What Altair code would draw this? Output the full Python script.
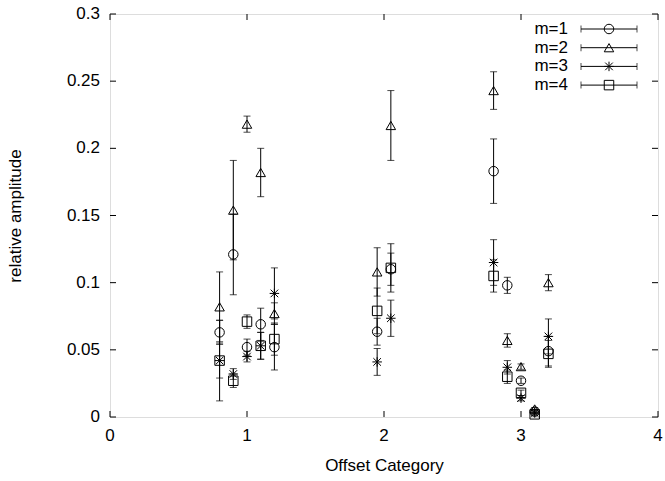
import altair as alt
import pandas as pd

# ---- data ----
x_pos = [0.8, 0.9, 1.0, 1.1, 1.2, 1.95, 2.05, 2.8, 2.9, 3.0, 3.1, 3.2]
series = ["m=1", "m=2", "m=3", "m=4"]
m1 = [0.063, 0.121, 0.052, 0.069, 0.052, 0.0635, 0.110, 0.183, 0.098, 0.027, 0.004, 0.049]
m1_err = [0.009, 0.030, 0.006, 0.012, 0.017, 0.010, 0.012, 0.024, 0.006, 0.002, 0.001, 0.011]
m2 = [0.082, 0.154, 0.218, 0.182, 0.077, 0.108, 0.217, 0.243, 0.057, 0.0375, 0.006, 0.100]
m2_err = [0.026, 0.037, 0.006, 0.018, 0.008, 0.018, 0.026, 0.014, 0.005, 0.002, 0.001, 0.006]
m3 = [0.042, 0.032, 0.045, 0.053, 0.092, 0.041, 0.0735, 0.115, 0.037, 0.014, 0.003, 0.060]
m3_err = [0.030, 0.004, 0.004, 0.010, 0.019, 0.010, 0.0135, 0.017, 0.005, 0.002, 0.001, 0.013]
m4 = [0.042, 0.027, 0.071, 0.053, 0.058, 0.079, 0.111, 0.105, 0.030, 0.018, 0.002, 0.047]
m4_err = [0.013, 0.005, 0.005, 0.010, 0.012, 0.017, 0.018, 0.012, 0.005, 0.002, 0.001, 0.010]
x_ticks = [0.0, 1.0, 2.0, 3.0, 4.0]
x_tick_labels = ["0", "1", "2", "3", "4"]
y_ticks = [0, 0.05, 0.1, 0.15, 0.2, 0.25, 0.3]
y_tick_labels = ["0", "0.05", "0.1", "0.15", "0.2", "0.25", "0.3"]

rows = []
for name, vals, errs in zip(series, [m1, m2, m3, m4], [m1_err, m2_err, m3_err, m4_err]):
    for x, v, e in zip(x_pos, vals, errs):
        rows.append({"x": x, "y": v, "lo": v - e, "hi": v + e, "m": name})
df = pd.DataFrame(rows)
leg = pd.DataFrame({"m": series})
xt = pd.DataFrame({"xv": x_ticks, "xl": x_tick_labels})
yt = pd.DataFrame({"yv": y_ticks, "yl": y_tick_labels})

W, H = 548, 403
FONT = "Liberation Sans"
FS = 17
MS = 90

xscale = alt.Scale(domain=[0, 4], nice=False, zero=False)
yscale = alt.Scale(domain=[0, 0.3], nice=False, zero=False)
asterisk = "M-1,0L1,0M0,-1L0,1M-0.8,-0.8L0.8,0.8M-0.8,0.8L0.8,-0.8"
shape_scale = alt.Scale(domain=series, range=["circle", "triangle-up", asterisk, "square"])

axis_style = dict(tickSize=0, ticks=False, labels=False, domain=False, grid=False,
                  titleFont=FONT, titleFontSize=FS, titleColor="black",
                  titleFontWeight="normal", titleAlign="center", titleBaseline="middle")
xaxis = alt.Axis(title="Offset Category", titleX=W / 2, titleY=48, **axis_style)
yaxis = alt.Axis(title="relative amplitude", titleX=-95, titleY=H / 2,
                 titleAngle=-90, **axis_style)

base = alt.Chart(df)
bars = base.mark_rule(color="black", strokeWidth=1).encode(
    x=alt.X("x:Q", scale=xscale, axis=xaxis),
    y=alt.Y("lo:Q", scale=yscale, axis=yaxis),
    y2="hi:Q",
)
cap_lo = base.mark_tick(orient="horizontal", size=7, thickness=1, color="black").encode(
    x=alt.X("x:Q"), y=alt.Y("lo:Q"))
cap_hi = base.mark_tick(orient="horizontal", size=7, thickness=1, color="black").encode(
    x=alt.X("x:Q"), y=alt.Y("hi:Q"))
pts = base.mark_point(filled=False, color="black", strokeWidth=1, size=MS, opacity=1).encode(
    x=alt.X("x:Q"),
    y=alt.Y("y:Q"),
    shape=alt.Shape("m:N", scale=shape_scale, legend=None),
)

# inward mirrored ticks on the frame + tick labels
tb = alt.Chart(xt).mark_rule(color="black", strokeWidth=1).encode(
    x=alt.X("xv:Q"), y=alt.value(H), y2=alt.value(H - 6))
tt = alt.Chart(xt).mark_rule(color="black", strokeWidth=1).encode(
    x=alt.X("xv:Q"), y=alt.value(0), y2=alt.value(6))
tl = alt.Chart(yt).mark_rule(color="black", strokeWidth=1).encode(
    y=alt.Y("yv:Q"), x=alt.value(0), x2=alt.value(6))
tr = alt.Chart(yt).mark_rule(color="black", strokeWidth=1).encode(
    y=alt.Y("yv:Q"), x=alt.value(W), x2=alt.value(W - 6))
xlab = alt.Chart(xt).mark_text(align="center", baseline="middle", font=FONT,
                               fontSize=FS, color="black").encode(
    x=alt.X("xv:Q"), y=alt.value(H + 19), text="xl:N")
ylab = alt.Chart(yt).mark_text(align="right", baseline="middle", font=FONT,
                               fontSize=FS, color="black").encode(
    y=alt.Y("yv:Q"), x=alt.value(-10), text="yl:N")

# key (top right, gnuplot style) - rows placed in pixel space
kbase = alt.Chart(leg).transform_window(i="row_number()").transform_calculate(
    ky="15 + 18.7 * (datum.i - 1)")
ky = alt.Y("ky:Q", scale=None, axis=None)
k_text = kbase.mark_text(align="right", baseline="middle", font=FONT,
                         fontSize=FS, color="black").encode(
    x=alt.value(458), y=ky, text="m:N")
k_line = kbase.mark_rule(color="black", strokeWidth=1).encode(
    x=alt.value(471), x2=alt.value(527), y=ky)
k_capl = kbase.mark_tick(orient="vertical", size=7, thickness=1, color="black").encode(
    x=alt.value(471), y=ky)
k_capr = kbase.mark_tick(orient="vertical", size=7, thickness=1, color="black").encode(
    x=alt.value(527), y=ky)
k_pts = kbase.mark_point(filled=False, color="black", strokeWidth=1, size=MS, opacity=1).encode(
    x=alt.value(499), y=ky, shape=alt.Shape("m:N", scale=shape_scale, legend=None))

chart = alt.layer(
    bars, cap_lo, cap_hi, pts, tb, tt, tl, tr, xlab, ylab,
    k_line, k_capl, k_capr, k_pts, k_text
).properties(
    width=W, height=H,
    autosize=alt.AutoSizeParams(type="none"),
    padding={"left": 110, "top": 14, "right": 7, "bottom": 64},
).configure_view(stroke="black", strokeWidth=1).configure(background="white")

chart.save("out.html", embed_options={"renderer": "svg", "actions": False})
